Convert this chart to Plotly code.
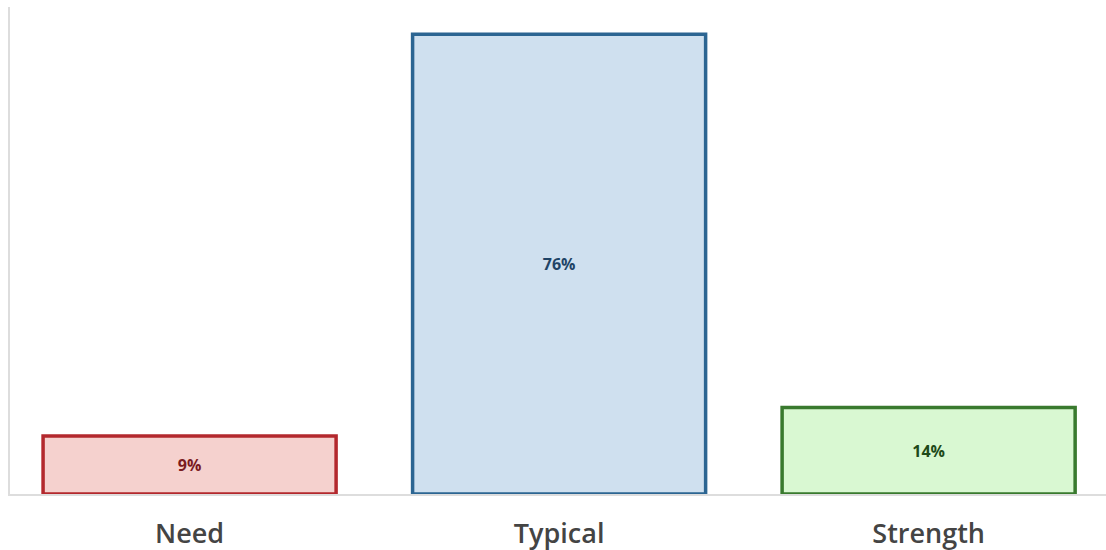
import plotly.graph_objects as go

categories = ["Need", "Typical", "Strength"]
values = [9.6, 76.1, 14.3]
labels = ["9%", "76%", "14%"]
fill_colors = ["#f5d1ce", "#cfe0ef", "#d9f8d2"]
line_colors = ["#b3282d", "#2c6592", "#397a2e"]
text_colors = ["#7a1b1f", "#1f4466", "#1e4a19"]

fig = go.Figure(go.Bar(
    x=categories, y=values, text=labels,
    textposition="inside", insidetextanchor="middle",
    textfont=dict(family="Open Sans", size=16, color=text_colors, weight=700),
    marker=dict(color=fill_colors, line=dict(color=line_colors, width=3.5)),
    width=0.793, hoverinfo="skip", cliponaxis=False,
))

fig.update_layout(
    width=1106, height=550,
    margin=dict(l=10, r=0, t=7, b=56),
    plot_bgcolor="white", paper_bgcolor="white",
    showlegend=False,
    xaxis=dict(range=[-0.486, 2.48], showgrid=False, zeroline=False,
               showline=True, linecolor="#dddddd", linewidth=2,
               ticks="", ticklabelstandoff=15, automargin=False,
               tickfont=dict(family="Open Sans", size=27, color="#444444", weight=600)),
    yaxis=dict(range=[0, 80.6], showgrid=False, zeroline=False,
               showline=True, linecolor="#dddddd", linewidth=2,
               showticklabels=False, ticks="", automargin=False),
    uniformtext=dict(minsize=8, mode="show"),
)

fig.write_html("out.html")
